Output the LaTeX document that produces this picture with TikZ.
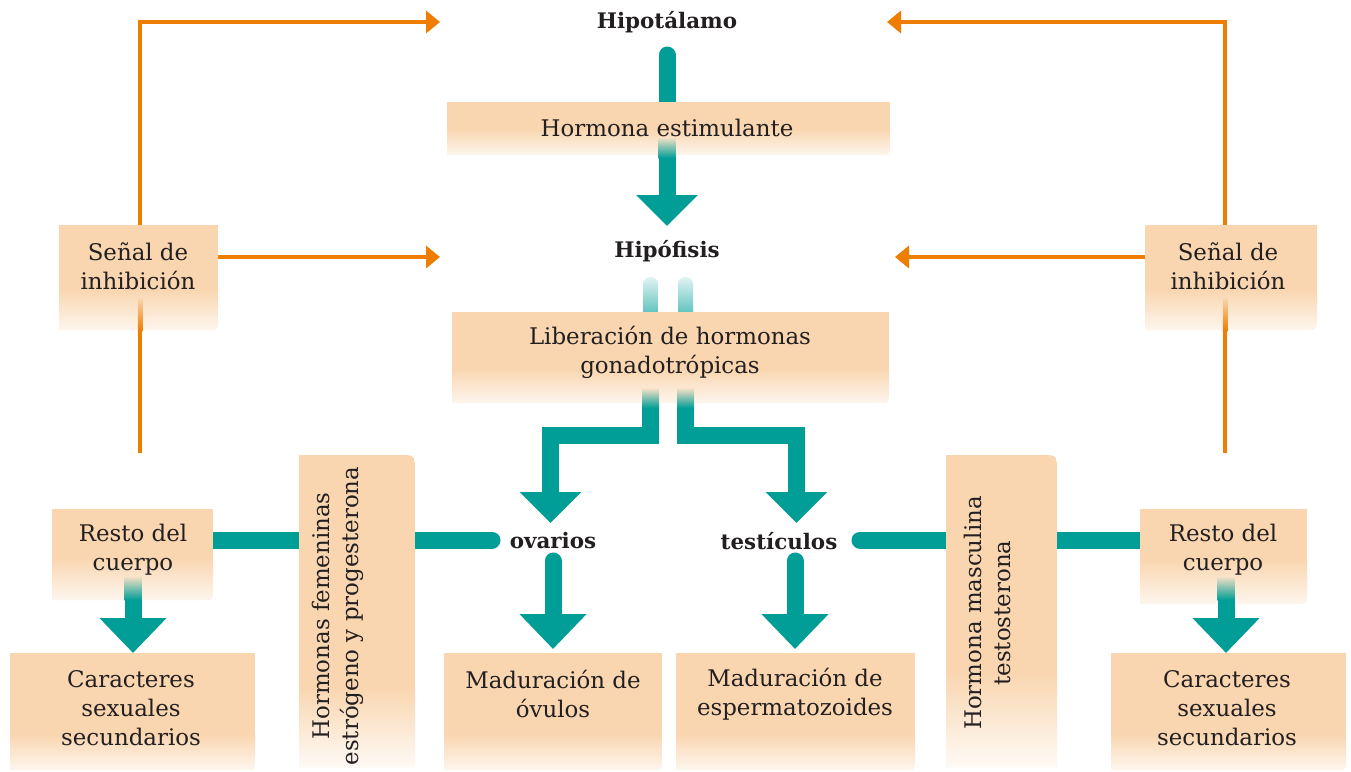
\documentclass[tikz,border=0pt]{standalone}
\usepackage{fontspec}
\setmainfont{DejaVu Serif}
\usetikzlibrary{arrows.meta}
\definecolor{tealc}{RGB}{0,158,150}
\definecolor{orng}{RGB}{238,125,0}
\definecolor{peach}{RGB}{249,214,176}
\definecolor{ink}{RGB}{35,31,32}
\pgfdeclarelayer{back}
\pgfdeclarelayer{mid}
\pgfsetlayers{back,mid,main}
% horizontal box: rounded bottom-right corner, fading bottom
\newcommand\peachbox[5]{%
  \begin{scope}
    \clip (#1,#2) -- (#3,#2) -- (#3,#4-13) .. controls (#3,#4) .. (#3-13,#4) -- (#1,#4) -- cycle;
    \fill[peach] (#1,#2) rectangle (#3,#4);
    \shade[top color=peach, bottom color=peach!22!white] (#1,#4-#5) rectangle (#3,#4);
  \end{scope}}
% vertical box: rounded top-right corner, fading bottom
\newcommand\peachvbox[5]{%
  \begin{scope}
    \clip (#1,#2) -- (#3-16,#2) .. controls (#3,#2) .. (#3,#2+16) -- (#3,#4) -- (#1,#4) -- cycle;
    \fill[peach] (#1,#2) rectangle (#3,#4);
    \shade[top color=peach, bottom color=peach!12!white] (#1,#4-#5) rectangle (#3,#4);
  \end{scope}}
\begin{document}
\begin{tikzpicture}[x=1pt,y=-1pt,
  txt/.style={text=ink, font=\fontsize{22.9}{29}\selectfont, align=center, inner sep=0pt},
  lbl/.style={text=ink, font=\bfseries\fontsize{21.4}{25}\selectfont, inner sep=0pt},
  tbar/.style={draw=tealc, line width=17pt},
  tarrow/.style={draw=tealc, line width=17pt, -{Triangle[width=60pt,length=31pt]}},
  tarrowb/.style={draw=tealc, line width=17pt, -{Triangle[width=65pt,length=35pt]}},
  oarrow/.style={draw=orng, line width=4.5pt, -{Triangle[width=22pt,length=14pt]}},
  ofade/.style={top color=peach, bottom color=orng},
  tfade/.style={top color=peach!70!white, bottom color=tealc},
]
\useasboundingbox (0,0) rectangle (1351,771);

% ---------- text nodes ----------
\node[lbl] (hipo) at (667,22) {Hipotálamo};
\node[txt] (hest) at (667,128) {Hormona estimulante};
\node[lbl] (hipof) at (667,251) {Hipófisis};
\node[txt] (lib) at (670,352) {Liberación de hormonas\\gonadotrópicas};
\node[lbl] (ov) at (553,541) {ovarios};
\node[lbl] (te) at (779,541) {testículos};
\node[txt] (mo) at (553,694) {Maduración de\\óvulos};
\node[txt] (me) at (795,694) {Maduración de\\espermatozoides};
\node[txt, rotate=90] (hf) at (338,616) {Hormonas femeninas\\estrógeno y progesterona};
\node[txt, rotate=90] (hm) at (987,613) {Hormona masculina\\testosterona};
\node[txt] (rl) at (133,550) {Resto del\\cuerpo};
\node[txt] (rr) at (1223,550) {Resto del\\cuerpo};
\node[txt] (cl) at (131,708) {Caracteres\\sexuales\\secundarios};
\node[txt] (cr) at (1227,708) {Caracteres\\sexuales\\secundarios};
\node[txt] (sl) at (138,266) {Señal de\\inhibición};
\node[txt] (sr) at (1228,266) {Señal de\\inhibición};

% ---------- connector end points ----------
\coordinate (lfoot) at (140,453);
\coordinate (ltip) at (440,22);
\coordinate (slout) at (218,257);
\coordinate (sltip) at (440,257);
\coordinate (rfoot) at (1225,453);
\coordinate (rtip) at (887,22);
\coordinate (srout) at (1145,257);
\coordinate (srtip) at (895,257);
\coordinate (hipoout) at (667,55);
\coordinate (hestin) at (667,115);
\coordinate (hestout) at (667,150);
\coordinate (hipofin) at (667,226);
\coordinate (rlbar) at (205,540);
\coordinate (ovbarl) at (492,540);
\coordinate (tebarr) at (860,540);
\coordinate (rrbar) at (1150,540);
\coordinate (libl) at (650.5,398);
\coordinate (libr) at (685.5,398);
\coordinate (ovin) at (550.5,523);
\coordinate (tein) at (796.5,523);
\coordinate (ovout) at (553,561);
\coordinate (moin) at (553,649);
\coordinate (teout) at (795,561);
\coordinate (mein) at (795,649);
\coordinate (rlout) at (133,582);
\coordinate (clin) at (133,653);
\coordinate (rrout) at (1226,582);
\coordinate (crin) at (1226,653);

% ---------- back layer: lines under the boxes ----------
\begin{pgfonlayer}{back}
  \fill[white] (0,0) rectangle (1351,771);
  \draw[oarrow] (lfoot) |- (ltip);
  \draw[oarrow] (rfoot) |- (rtip);
  \draw[tbar, line cap=round] (rlbar) -- (ovbarl);
  \draw[tbar, line cap=round] (tebarr) -- (rrbar);
  \draw[tbar, line cap=round] (hipoout) -- (hestin);
  \shade[top color=tealc!12, bottom color=tealc!75, rounded corners=7pt] (643,277) rectangle (658,322);
  \shade[top color=tealc!12, bottom color=tealc!75, rounded corners=7pt] (678,277) rectangle (693,322);
\end{pgfonlayer}

% ---------- mid layer: boxes ----------
\begin{pgfonlayer}{mid}
  \peachbox{447}{102}{890}{155}{26}
  \peachbox{452}{312}{889}{403}{34}
  \peachbox{59}{225}{218}{330}{40}
  \peachbox{1145}{225}{1317}{330}{40}
  \peachbox{52}{509}{213}{600}{42}
  \peachbox{1140}{509}{1307}{604}{44}
  \peachbox{10}{653}{255}{770}{36}
  \peachbox{1111}{653}{1346}{770}{36}
  \peachbox{444}{653}{662}{770}{36}
  \peachbox{676}{653}{915}{770}{36}
  \peachvbox{299}{455}{415}{768}{80}
  \peachvbox{946}{455}{1057}{768}{95}
\end{pgfonlayer}

% ---------- main layer: arrows over the boxes ----------
\draw[oarrow] (slout) -- (sltip);
\draw[oarrow] (srout) -- (srtip);
\shade[ofade] (137.75,298) rectangle (142.25,331);
\shade[ofade] (1222.75,298) rectangle (1227.25,331);

\draw[tarrow] (hestout) -- (hipofin);
\shade[tfade] (658.5,137) rectangle (675.5,158);

\draw[tarrow] (libl) -- (650.5,435) -- (550.5,435) -- (ovin);
\draw[tarrow] (libr) -- (685.5,435) -- (796.5,435) -- (tein);
\shade[tfade] (642,388) rectangle (659,408);
\shade[tfade] (677,388) rectangle (694,408);

\draw[tarrowb, line cap=round] (ovout) -- (moin);
\draw[tarrowb, line cap=round] (teout) -- (mein);

\draw[tarrowb] (rlout) -- (clin);
\draw[tarrowb] (rrout) -- (crin);
\shade[tfade] (124.5,576) rectangle (141.5,600);
\shade[tfade] (1217.5,576) rectangle (1234.5,600);
\end{tikzpicture}
\end{document}
